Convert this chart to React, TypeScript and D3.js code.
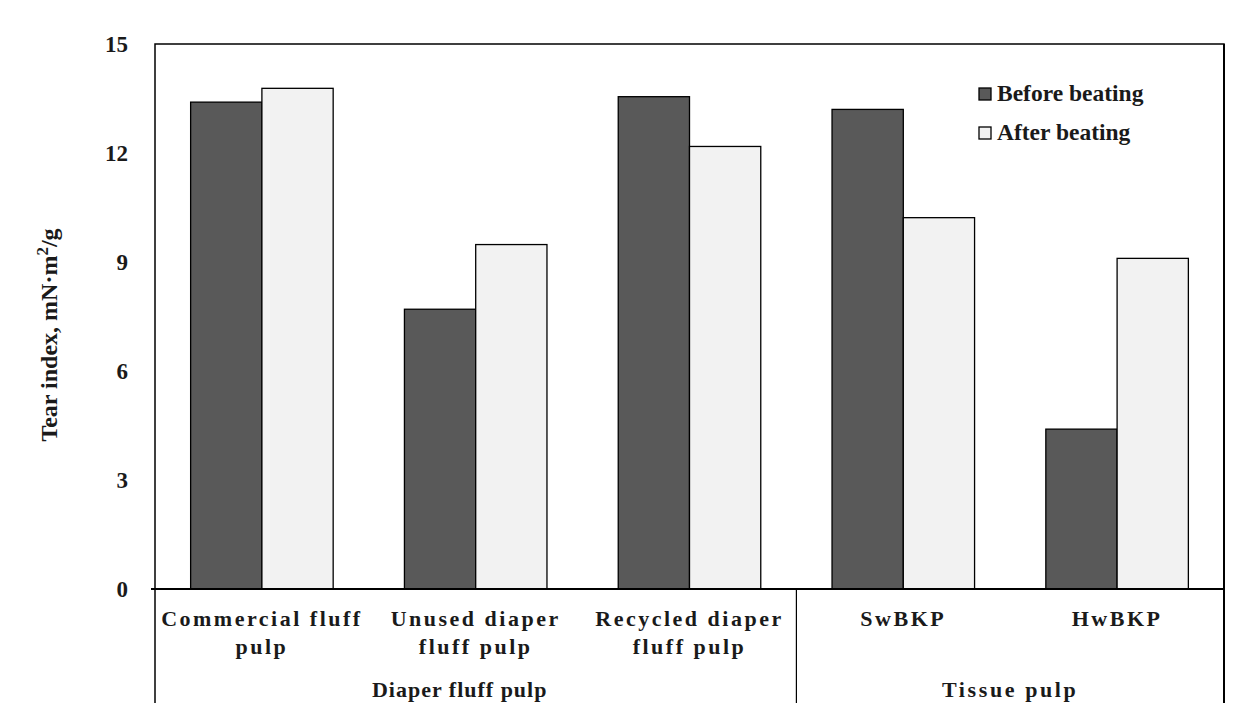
import React from "react";
import * as d3 from "d3";

const categories = ["Commercial fluff|pulp", "Unused diaper|fluff pulp", "Recycled diaper|fluff pulp", "SwBKP", "HwBKP"];
const beforeBeating = [13.4, 7.7, 13.55, 13.2, 4.4];
const afterBeating = [13.78, 9.48, 12.18, 10.22, 9.1];
const seriesNames = ["Before beating", "After beating"];
const groupNames = ["Diaper fluff pulp", "Tissue pulp"];
const groupSizes = [3, 2];
const yTicks = [0, 3, 6, 9, 12, 15];

const W = 1239, H = 727;
const left = 155, right = 1224, top = 44, bottom = 589, axisBottom = 703;
const colors = ["#595959", "#f2f2f2"];
const groupSpacing = [1, 2.6];
const groupShift = [-16, 0];
const font = "'Liberation Serif', 'Times New Roman', serif";

export default function App() {
  const x = d3.scaleBand<number>().domain(categories.map((_, i) => i)).range([left, right]).paddingInner(0).paddingOuter(0);
  const inner = d3.scaleBand<number>().domain([0, 1]).range([0, x.bandwidth()]).paddingOuter(0.5).paddingInner(0);
  const y = d3.scaleLinear().domain([0, 15]).range([bottom, top]);
  const series = [beforeBeating, afterBeating];

  let acc = 0;
  const groups = groupNames.map((g, gi) => {
    const start = acc;
    acc += groupSizes[gi];
    const x0 = x(start)!;
    const x1 = x(acc - 1)! + x.bandwidth();
    return { name: g, x0, x1 };
  });

  return (
    <svg width={W} height={H} style={{ position: "absolute", left: 0, top: 0, background: "#fff" }} fontFamily={font}>
      <rect x={0} y={0} width={W} height={H} fill="#fff" />
      {categories.map((c, i) =>
        series.map((s, si) => (
          <rect key={`${i}-${si}`} x={x(i)! + inner(si)!} y={y(s[i])} width={inner.bandwidth()} height={y(0) - y(s[i])}
            fill={colors[si]} stroke="#000" strokeWidth={1.3} />
        ))
      )}
      <rect x={left} y={top} width={right - left} height={bottom - top} fill="none" stroke="#000" strokeWidth={1.5} />
      <line x1={left - 4} x2={right} y1={bottom} y2={bottom} stroke="#000" strokeWidth={2} />
      <line x1={left} x2={left} y1={bottom} y2={axisBottom} stroke="#000" strokeWidth={1.5} />
      <line x1={right} x2={right} y1={top} y2={axisBottom} stroke="#000" strokeWidth={2} />
      {groups.slice(0, -1).map((g, gi) => (
        <line key={gi} x1={g.x1} x2={g.x1} y1={bottom} y2={axisBottom} stroke="#000" strokeWidth={1.2} />
      ))}
      {yTicks.map((t) => (
        <text key={t} x={128} y={y(t)} dy="0.35em" textAnchor="end" fontSize={23} fontWeight="bold" fill="#1a1a1a">{t}</text>
      ))}
      <text transform={`translate(57,335) rotate(-90)`} textAnchor="middle" fontSize={24} fontWeight="bold" fill="#1a1a1a">
        Tear index, mN·m<tspan dy={-9} fontSize={17}>2</tspan><tspan dy={9}>/g</tspan>
      </text>
      {categories.map((c, i) => {
        const lines = c.split("|");
        const cx = x(i)! + x.bandwidth() / 2;
        return (
          <text key={i} x={cx} textAnchor="middle" fontSize={22} fontWeight="bold" letterSpacing={2.5} fill="#1a1a1a">
            {lines.map((l, li) => (
              <tspan key={li} x={cx} y={626 + li * 28}>{l}</tspan>
            ))}
          </text>
        );
      })}
      {groups.map((g, gi) => (
        <text key={gi} x={(g.x0 + g.x1) / 2 + groupShift[gi]} y={697} textAnchor="middle" fontSize={22} fontWeight="bold" letterSpacing={groupSpacing[gi]} fill="#1a1a1a">{g.name}</text>
      ))}
      {seriesNames.map((n, i) => (
        <g key={n} transform={`translate(979,${88 + i * 39})`}>
          <rect x={0} y={0} width={12} height={12} fill={colors[i]} stroke="#000" strokeWidth={1.3} />
          <text x={18} y={13} fontSize={23.5} fontWeight="bold" fill="#1a1a1a">{n}</text>
        </g>
      ))}
    </svg>
  );
}
